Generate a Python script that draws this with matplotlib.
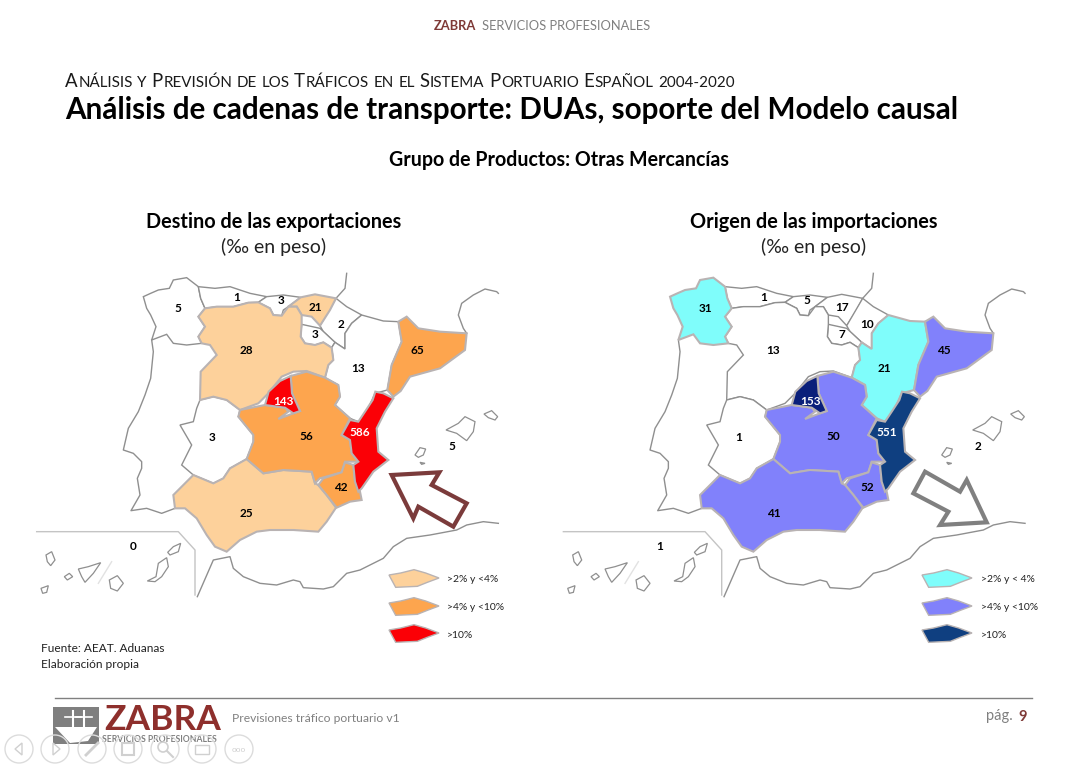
import numpy as np
import matplotlib
matplotlib.use("Agg")
import matplotlib.pyplot as plt
from matplotlib.patches import Polygon, Circle, Rectangle

plt.rcParams['font.family'] = ['Lato', 'DejaVu Sans']

# values per region, per mil of weight
REGIONS = ['Galicia', 'Asturias', 'Cantabria', 'Pais Vasco', 'Navarra', 'La Rioja',
           'Castilla y Leon', 'Aragon', 'Cataluna', 'Madrid', 'C. Valenciana',
           'Castilla-La Mancha', 'Extremadura', 'Murcia', 'Andalucia', 'Canarias', 'Baleares']
EXPORTS = [5, 1, 3, 21, 2, 3, 28, 13, 65, 143, 586, 56, 3, 42, 25, 0, 5]
IMPORTS = [31, 1, 5, 17, 10, 7, 13, 21, 45, 153, 551, 50, 1, 52, 41, 1, 2]
BREAKS = [20, 40, 100]

EXPORT_COLORS = ['white', '#fdd19b', '#fda54e', '#fb0006']
IMPORT_COLORS = ['white', '#7ffdfb', '#8181fb', '#0f3f80']
MADRID_IMPORT_COLOR = '#0a1f7a'

EXPORT_LEGEND = ['>2% y <4%', '>4% y <10%', '>10%']
IMPORT_LEGEND = ['>2% y < 4%', '>4% y <10%', '>10%']

# basemap outlines, in the 3x crop coordinates of the left map
SHAPES = {
    'Galicia': [(340,95),(362,85),(385,75),(418,70),(430,45),(470,38),(505,65),(512,100),(525,130),(505,155),(525,185),(505,215),(515,235),(470,240),(430,235),(410,208),(365,225),(378,185),(362,150),(350,130)],
    'Asturias': [(505,65),(555,70),(600,65),(660,85),(710,95),(685,112),(655,113),(610,125),(560,125),(525,130),(512,100)],
    'Cantabria': [(710,95),(760,90),(812,97),(795,110),(775,125),(760,135),(755,152),(730,150),(720,130),(685,112)],
    'Pais Vasco': [(812,97),(855,88),(918,100),(900,135),(870,182),(845,155),(815,150),(800,125),(775,125),(795,110)],
    'Navarra': [(918,100),(950,125),(995,150),(965,175),(945,205),(945,252),(915,232),(880,200),(870,182)],
    'La Rioja': [(815,178),(870,190),(915,232),(905,248),(880,232),(855,240),(825,235),(812,215)],
    'Castilla y Leon': [(525,130),(560,125),(610,125),(655,113),(685,112),(720,130),(730,150),(755,152),(775,125),(800,125),(815,150),(815,178),(812,215),(825,235),(855,240),(880,232),(905,248),(910,285),(895,300),(885,338),(830,318),(790,320),(755,335),(715,385),(685,415),(630,435),(590,405),(550,395),(510,405),(512,320),(560,270),(540,240),(515,235),(505,215),(525,185),(505,155)],
    'Aragon': [(995,150),(1060,168),(1105,170),(1115,230),(1085,300),(1072,375),(1035,385),(1010,440),(985,470),(960,460),(915,420),(930,395),(925,360),(885,338),(895,300),(910,285),(905,248),(915,232),(945,252),(945,205),(965,175)],
    'Cataluna': [(1105,170),(1130,155),(1165,190),(1230,200),(1310,205),(1305,255),(1230,310),(1140,335),(1112,378),(1090,395),(1072,375),(1085,300),(1115,230)],
    'Madrid': [(782,333),(786,385),(810,438),(790,445),(765,428),(705,420),(716,380),(750,348)],
    'C. Valenciana': [(1036,380),(1060,385),(1090,400),(1065,440),(1040,490),(1045,560),(1075,585),(1030,620),(995,670),(985,680),(975,650),(970,600),(985,590),(965,565),(960,525),(935,510),(960,465),(985,470),(1005,440),(1028,405)],
    'Castilla-La Mancha': [(630,435),(680,425),(705,420),(765,428),(775,440),(745,462),(790,445),(810,438),(786,385),(782,333),(830,320),(885,338),(925,360),(930,395),(915,420),(960,460),(935,510),(960,525),(965,565),(985,590),(945,590),(935,622),(870,640),(855,655),(845,620),(760,615),(700,625),(650,582),(670,530),(670,510),(625,455)],
    'Extremadura': [(510,405),(550,395),(590,405),(630,435),(625,455),(670,510),(670,530),(650,582),(600,610),(580,640),(550,655),(490,630),(455,600),(485,540),(450,480),(490,470),(500,430)],
    'Murcia': [(865,660),(880,640),(935,622),(945,592),(970,600),(975,650),(990,680),(995,705),(960,710),(920,728),(890,690)],
    'Andalucia': [(650,582),(700,625),(760,615),(845,620),(855,655),(865,660),(890,690),(918,728),(890,770),(865,800),(790,795),(720,795),(680,800),(630,825),(590,860),(555,845),(530,810),(500,760),(465,730),(435,730),(430,690),(490,630),(550,655),(580,640),(600,610)],
}
OPEN_LINES = [
    [(365,225),(370,260),(362,340),(345,390),(325,440),(295,490),(280,555),(310,565),(335,590),(335,610),(322,640),(330,690),(303,737),(350,730),(395,745),(435,730)],
    [(950,25),(945,70),(918,100)],
    [(1405,85),(1400,80),(1365,72),(1330,90),(1295,115),(1285,150),(1300,190),(1310,205)],
    [(502,995),(550,885),(600,875),(610,910),(640,935),(690,955),(740,960),(790,945),(810,950),(820,968),(880,972),(910,965),(950,925),(990,915),(1060,880),(1090,845),(1130,820),(1200,810),(1280,795),(1310,780),(1360,770),(1405,775)],
]
BOX_LINE = [(20,800),(445,800),(495,855),(495,990)]
FAINT_LINE = [(205,955),(245,890)]
ISLANDS = [
    [(1248,495),(1285,475),(1305,455),(1335,470),(1330,500),(1310,527),(1280,505)],
    [(1362,447),(1385,437),(1403,455),(1395,465),(1375,458)],
    [(1155,570),(1170,548),(1187,552),(1180,570),(1165,577)],
    [(1170,592),(1185,595),(1175,598)],
    [(48,870),(65,860),(75,885),(62,902),(52,890)],
    [(103,935),(118,925),(128,935),(112,945)],
    [(145,912),(175,905),(212,893),(190,925),(165,952),(155,935)],
    [(238,945),(262,932),(280,955),(262,978),(242,970)],
    [(352,948),(378,935),(385,895),(410,878),(415,905),(395,935),(375,950)],
    [(413,862),(430,845),(452,835),(445,860),(420,870)],
    [(33,970),(55,962),(50,982),(38,985)],
]
LABEL_XY = {
    'Galicia': (445,132), 'Asturias': (620,97), 'Cantabria': (752,108), 'Pais Vasco': (855,128),
    'Navarra': (932,180), 'La Rioja': (855,210), 'Castilla y Leon': (650,256), 'Aragon': (983,312),
    'Cataluna': (1162,258), 'Madrid': (760,410), 'C. Valenciana': (990,503),
    'Castilla-La Mancha': (830,513), 'Extremadura': (547,517), 'Murcia': (932,667),
    'Andalucia': (650,745), 'Canarias': (310,845), 'Baleares': (1265,545),
}
LEGEND_SHAPE = [(-75,-12),(-40,-18),(0,-28),(35,-18),(75,-3),(40,10),(10,22),(-55,25)]
EXPORT_ARROW = [(1085,630),(1228,622),(1205,660),(1310,715),(1270,785),(1165,725),(1150,760)]
IMPORT_ARROW = [(1105,620),(1210,680),(1230,645),(1290,772),(1150,780),(1175,740),(1070,685)]
NAV_X = [19, 55, 92, 128, 165, 202, 239]


def px(points, dx=0):
    return [(30 + x / 3 + dx, 265 + y / 3) for x, y in points]


fig = plt.figure(figsize=(10.86, 7.68), dpi=100)
ax = fig.add_axes([0, 0, 1, 1])
ax.set_xlim(0, 1086)
ax.set_ylim(768, 0)
ax.axis('off')


def draw_map(values, colors, dx, legend, legend_x, text_x, arrow, arrow_color):
    classes = np.digitize(values, BREAKS)
    lookup = dict(zip(REGIONS, zip(values, classes)))
    for line in OPEN_LINES + [BOX_LINE, FAINT_LINE]:
        xy = np.array(px(line, dx))
        c = '#8f8f8f'
        if line is BOX_LINE:
            c = '#c4c4c4'
        if line is FAINT_LINE:
            c = '#e2e2e2'
        ax.plot(xy[:, 0], xy[:, 1], color=c, lw=1.0, zorder=1)
    for isl in ISLANDS:
        ax.add_patch(Polygon(px(isl, dx), closed=True, fc='white', ec='#8f8f8f', lw=0.9, zorder=1))
    order = sorted(SHAPES, key=lambda r: lookup[r][1])
    for name in order:
        cls = lookup[name][1]
        col = colors[cls]
        if name == 'Madrid' and colors is IMPORT_COLORS:
            col = MADRID_IMPORT_COLOR
        ec = '#8f8f8f' if cls == 0 else '#b9b3b3'
        ax.add_patch(Polygon(px(SHAPES[name], dx), closed=True, fc=col, ec=ec,
                             lw=1.0 if cls == 0 else 1.5, zorder=2 + cls))
    for name, (val, cls) in lookup.items():
        x, y = px([LABEL_XY[name]], dx)[0]
        tc = 'white' if cls == 3 else 'black'
        ax.text(x, y, str(val), ha='center', va='center', fontsize=8.5, color=tc,
                fontweight='bold', zorder=8)
    ax.add_patch(Polygon(px(arrow, dx), closed=True, fc='white', ec=arrow_color, lw=3, zorder=7))
    for i, lab in enumerate(legend):
        cy = [579, 607, 634][i]
        shape = [(legend_x + sx / 3, cy + sy / 3) for sx, sy in LEGEND_SHAPE]
        ax.add_patch(Polygon(shape, closed=True, fc=colors[i + 1], ec='#b9b3b3', lw=1.0, zorder=3))
        ax.text(text_x, [579, 608, 636][i], lab, ha='left', va='center', fontsize=7.5,
                color='#222222', zorder=8)


draw_map(EXPORTS, EXPORT_COLORS, 0, EXPORT_LEGEND, 414, 447, EXPORT_ARROW, '#7b3b3b')
draw_map(IMPORTS, IMPORT_COLORS, 526.7, IMPORT_LEGEND, 947, 981, IMPORT_ARROW, '#808080')


def small_caps(x, y, string, big, small, color):
    # lowercase drawn as smaller capitals, word by word
    renderer = fig.canvas.get_renderer()
    for word in string.split(' '):
        run = ''
        runs = []
        for ch in word:
            up = ch.isupper()
            if run and up != runs_up:
                runs.append((run, runs_up))
                run = ''
            runs_up = up
            run += ch
        runs.append((run, runs_up))
        for chunk, up in runs:
            t = ax.text(x, y, chunk.upper(), fontsize=big if up else small, color=color,
                        ha='left', va='baseline')
            x += t.get_window_extent(renderer).width + 0.6
        x += 4.0


# header
ax.text(434, 26, 'ZABRA', fontsize=9.3, fontweight='bold', color='#7f3a37', ha='left', va='center')
ax.text(482, 26, 'SERVICIOS PROFESIONALES', fontsize=9.3, color='#808080', ha='left', va='center')

small_caps(65, 87, 'Análisis y Previsión de los Tráficos en el Sistema Portuario Español 2004-2020',
           13.4, 10.9, '#1a1a1a')
ax.text(65, 110, 'Análisis de cadenas de transporte: DUAs, soporte del Modelo causal',
        fontsize=21.3, fontweight='bold', color='black', ha='left', va='center')
ax.text(559, 160, 'Grupo de Productos: Otras Mercancías', fontsize=14.1, fontweight='bold',
        color='black', ha='center', va='center')

for cx, head in [(274, 'Destino de las exportaciones'), (814, 'Origen de las importaciones')]:
    ax.text(cx, 222, head, fontsize=14.3, fontweight='bold', color='black', ha='center', va='center')
    ax.text(cx, 247, '(‰ en peso)', fontsize=14, color='#222222', ha='center', va='center')

ax.text(41, 649, 'Fuente: AEAT. Aduanas', fontsize=8.6, color='#222222', ha='left', va='center')
ax.text(41, 665, 'Elaboración propia', fontsize=8.6, color='#222222', ha='left', va='center')

# footer
ax.plot([55, 1032], [698, 698], color='#808080', lw=1)
ax.add_patch(Rectangle((53, 707), 46, 37, fc='#7f7f7f', ec='none', zorder=2))
ax.add_patch(Polygon([(55, 727), (97, 727), (88, 741), (70, 743)], closed=True, fc='white', ec='none', zorder=3))
for bx in [73, 84]:
    ax.plot([bx, bx], [711, 727], color='white', lw=1.5, zorder=3)
    ax.plot([bx - 8, bx + 8], [717, 717], color='white', lw=1.2, zorder=3)
ax.text(104, 720, 'ZABRA', fontsize=25.5, fontweight='bold', color='#8e2f2c', ha='left', va='center', zorder=3)
ax.text(102, 740, 'SERVICIOS PROFESIONALES', fontsize=6.2, fontweight='bold', color='#808080',
        ha='left', va='center', zorder=3)
ax.text(232, 719, 'Previsiones tráfico portuario v1', fontsize=8.7, color='#808080', ha='left', va='center')
ax.text(986, 716, 'pág.', fontsize=10.5, color='#808080', ha='left', va='center')
ax.text(1018, 717, '9', fontsize=10.5, fontweight='bold', color='#7f3a37', ha='left', va='center')

# faint slide navigation buttons
for nx in NAV_X:
    ax.add_patch(Circle((nx, 749), 14, fc='none', ec='#dcdcdc', lw=1.0, zorder=4))
ax.add_patch(Polygon([(22, 743), (15, 749), (22, 755)], closed=True, fc='none', ec='#d0d0d0', lw=1, zorder=4))
ax.add_patch(Polygon([(53, 743), (60, 749), (53, 755)], closed=True, fc='none', ec='#d0d0d0', lw=1, zorder=4))
ax.plot([86, 98], [755, 743], color='#d0d0d0', lw=2, zorder=4)
ax.add_patch(Rectangle((122, 743), 12, 12, fc='none', ec='#d0d0d0', lw=1.5, zorder=4))
ax.add_patch(Circle((163, 747), 5, fc='none', ec='#d0d0d0', lw=1.2, zorder=4))
ax.plot([167, 173], [751, 757], color='#d0d0d0', lw=1.5, zorder=4)
ax.add_patch(Rectangle((195, 745), 14, 9, fc='none', ec='#d0d0d0', lw=1, zorder=4))
ax.text(239, 749, 'ooo', fontsize=6, color='#d0d0d0', ha='center', va='center', zorder=4)

fig.savefig('out.png', dpi=100)
